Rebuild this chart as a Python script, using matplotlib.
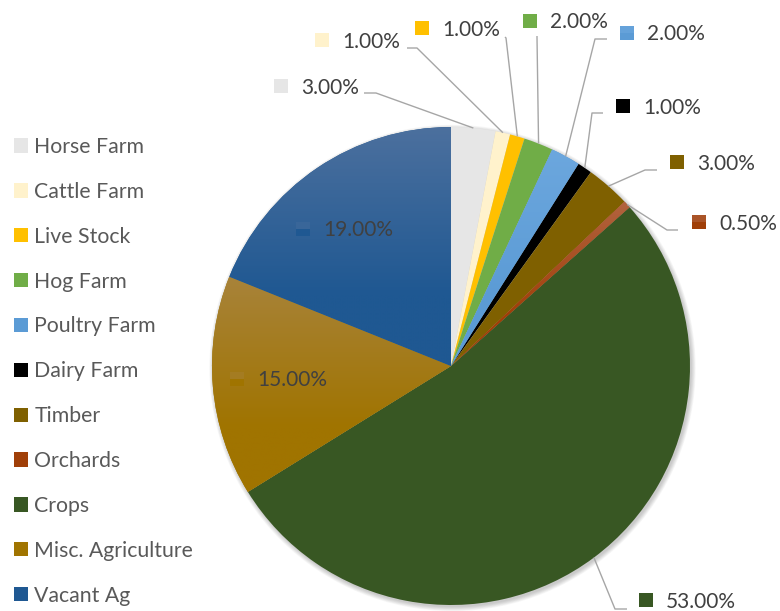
import numpy as np
import matplotlib
matplotlib.use('Agg')
import matplotlib.pyplot as plt
from matplotlib.patches import Circle, Rectangle
from matplotlib.colors import to_rgb

plt.rcParams['font.family'] = ['Lato', 'DejaVu Sans']

# ---------------- data ----------------
categories = ['Horse Farm', 'Cattle Farm', 'Live Stock', 'Hog Farm', 'Poultry Farm',
              'Dairy Farm', 'Timber', 'Orchards', 'Crops', 'Misc. Agriculture', 'Vacant Ag']
shares = [3.0, 1.0, 1.0, 2.0, 2.0, 1.0, 3.0, 0.5, 53.0, 15.0, 19.0]
value_labels = ['3.00%', '1.00%', '1.00%', '2.00%', '2.00%', '1.00%',
                '3.00%', '0.50%', '53.00%', '15.00%', '19.00%']

# ---------------- styles ----------------
base_colors = ['#e6e6e6', '#fff2cc', '#ffc000', '#70ad47', '#5b9bd5', '#000000',
               '#7f6000', '#a03f08', '#385723', '#a07400', '#1f5892']
top_colors = [None, None, None, None, '#6ca7de', None,
              None, '#b2633f', None, '#a8833a', '#4c709e']

# label layout in pixel coords (square left x, centre y)
label_pos = [(274, 86), (315, 40), (415, 28), (523, 21), (620, 33), (616, 106),
             (670, 162), (692, 222), (639, 600), (230, 379), (296, 229)]
# leader line elbows (pixel): (start, elbow) or None
leaders = [((364, 93), (376, 93)), ((407, 48), (417, 48)), ((505, 37), (506, 38)),
           ((537, 36), (537, 37)), ((607, 39), (595, 39)), ((603, 113), (592, 113)),
           ((657, 170), (645, 170)), ((678, 230), (667, 230)), ((627, 609), (615, 609)),
           None, None]

W, H = 780, 611
fig = plt.figure(figsize=(7.8, 6.11), dpi=100)
ax = fig.add_axes([0, 0, 1, 1])


def P(x, y):
    return x, H - y


cx, cy = P(451, 366)
R = 239

# soft shadow
for i in range(7):
    ax.add_patch(Circle((cx + 1.5, cy - 2.0), R + 0.7 * i, facecolor='black',
                        edgecolor='none', alpha=0.03, zorder=0))

wedges, _ = ax.pie(shares, colors=base_colors, startangle=90, counterclock=False,
                   center=(cx, cy), radius=R, wedgeprops=dict(linewidth=0),
                   frame=False)
for w in wedges:
    w.set_zorder(1)

# gradients
for w, base, top in zip(wedges, base_colors, top_colors):
    if top is None:
        continue
    v = w.get_path().vertices
    x0, x1 = v[:, 0].min(), v[:, 0].max()
    y0, y1 = v[:, 1].min(), v[:, 1].max()
    t = np.linspace(0, 1, 256)[:, None]
    c0 = np.array(to_rgb(top))
    c1 = np.array(to_rgb(base))
    t2 = np.clip(t / 0.7, 0, 1)
    img = c0[None, None, :] * (1 - t2[:, :, None]) + c1[None, None, :] * t2[:, :, None]
    img = np.repeat(img, 2, axis=1)
    im = ax.imshow(img, extent=(x0, x1, y0, y1), origin='upper', aspect='auto',
                   zorder=1.5, interpolation='bilinear')
    im.set_clip_path(w)

# labels
for i, w in enumerate(wedges):
    sx, scy = label_pos[i]
    col_top = top_colors[i] if top_colors[i] else base_colors[i]
    ax.add_patch(Rectangle(P(sx, scy + 7), 14, 14, facecolor=base_colors[i],
                           edgecolor='none', zorder=4))
    if top_colors[i]:
        ax.add_patch(Rectangle(P(sx, scy), 14, 7, facecolor=col_top,
                               edgecolor='none', zorder=4, alpha=0.6))
    tx, ty = P(sx + 27, scy + 7.5)
    ax.text(tx, ty, value_labels[i], fontsize=15, color='#404040', ha='left',
            va='baseline', zorder=5)
    if leaders[i] is not None:
        mid = np.deg2rad((w.theta1 + w.theta2) / 2)
        ex, ey = cx + R * np.cos(mid), cy + R * np.sin(mid)
        (ax1, ay1), (ax2, ay2) = leaders[i]
        p1 = P(ax1, ay1)
        p2 = P(ax2, ay2)
        ax.plot([p1[0], p2[0], ex], [p1[1], p2[1], ey], color='#a6a6a6', lw=1.0,
                zorder=3, solid_capstyle='butt')

ax.set_xlim(0, W)
ax.set_ylim(0, H)
ax.set_aspect('equal')
ax.axis('off')

leg = ax.legend(wedges, categories, loc='upper left',
                bbox_to_anchor=(14 / W, 1 - 137 / H), bbox_transform=fig.transFigure,
                frameon=False, fontsize=15.3, handlelength=0.66, handleheight=0.66,
                handletextpad=0.29, labelspacing=1.17, borderpad=0, borderaxespad=0,
                labelcolor='#595959')

fig.savefig('out.png', dpi=100, facecolor='white')
